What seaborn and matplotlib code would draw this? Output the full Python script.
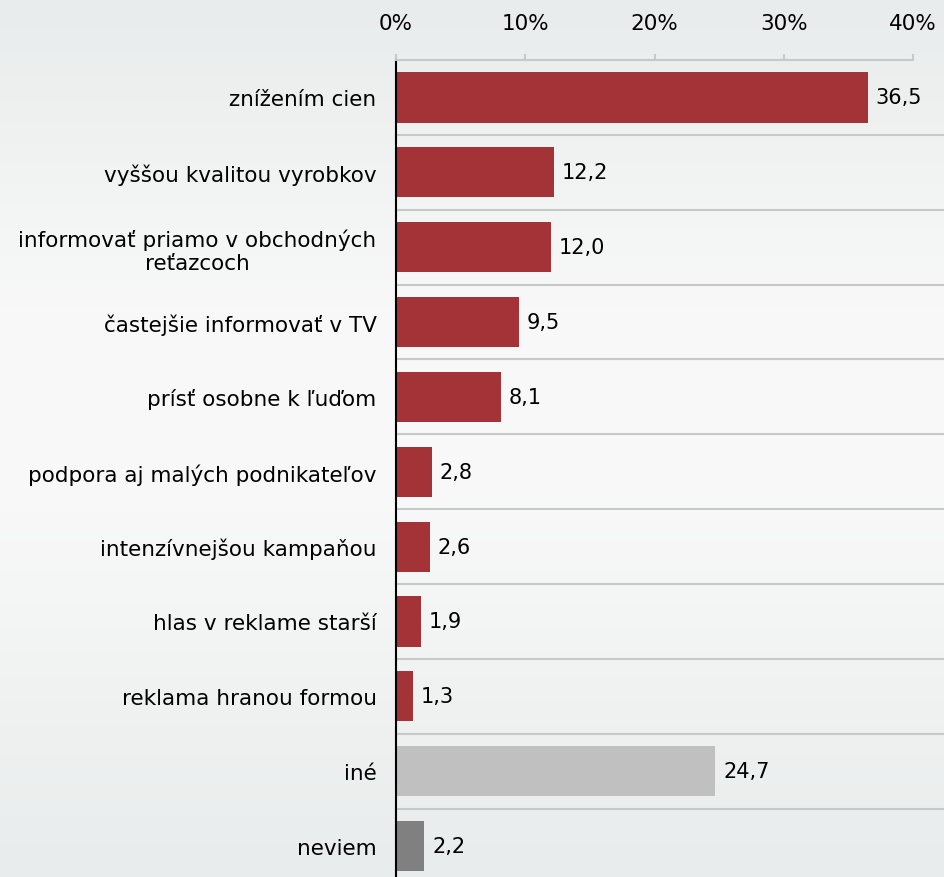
import numpy as np
import pandas as pd
import matplotlib
matplotlib.use("Agg")
import matplotlib.pyplot as plt
from matplotlib.colors import LinearSegmentedColormap
import seaborn as sns

# data
categories = ["znížením cien", "vyššou kvalitou vyrobkov",
              "informovať priamo v obchodných\nreťazcoch",
              "častejšie informovať v TV", "prísť osobne k ľuďom",
              "podpora aj malých podnikateľov", "intenzívnejšou kampaňou",
              "hlas v reklame starší", "reklama hranou formou", "iné", "neviem"]
values = [36.5, 12.2, 12.0, 9.5, 8.1, 2.8, 2.6, 1.9, 1.3, 24.7, 2.2]
bar_colors = ["#A33336"] * 9 + ["#C0C0C0", "#808080"]
xticks = [0, 10, 20, 30, 40]

df = pd.DataFrame({"cat": categories, "val": values})

sns.set_style("white")
plt.rcParams["font.family"] = ["DejaVu Sans"]
plt.rcParams["text.color"] = "black"
plt.rcParams["xtick.labelcolor"] = "black"
plt.rcParams["ytick.labelcolor"] = "black"

fig = plt.figure(figsize=(9.45, 8.78), dpi=100)

# background gradient
bg = fig.add_axes([0, 0, 1, 1], zorder=-1)
cmap = LinearSegmentedColormap.from_list(
    "bg", [(0, "#E9ECEC"), (0.35, "#F8F8F8"), (0.55, "#F9F9F9"), (1, "#E9ECEC")])
bg.imshow(np.linspace(0, 1, 256).reshape(-1, 1), aspect="auto", cmap=cmap,
          extent=[0, 1, 0, 1])
bg.set_axis_off()

ax = fig.add_axes([0.419, -0.0074, 0.581, 0.9379])
ax.set_facecolor("none")
sns.barplot(data=df, y="cat", x="val", hue="cat", palette=bar_colors,
            orient="h", width=0.67, legend=False, ax=ax, saturation=1,
            linewidth=0)

ax.set_xlim(0, 42.46)
ax.set_ylim(len(categories) - 0.5, -0.5)
ax.set_xlabel("")
ax.set_ylabel("")

# x axis on top
ax.xaxis.tick_top()
ax.set_xticks(xticks)
ax.set_xticklabels([f"{t}%" for t in xticks], fontsize=15.5)
ax.tick_params(axis="x", direction="out", length=4.5, width=1.5, color="#C8C8C8", pad=15)

for s in ["right", "bottom"]:
    ax.spines[s].set_visible(False)
ax.spines["top"].set_color("#C8C8C8")
ax.spines["top"].set_linewidth(1.5)
ax.spines["top"].set_bounds(0, 40)
ax.spines["left"].set_color("black")
ax.spines["left"].set_linewidth(1.5)

# y ticks: labels at centres, tick marks at boundaries
ax.set_yticks(range(len(categories)))
ax.set_yticklabels(categories, fontsize=15.5)
ax.tick_params(axis="y", length=0, pad=14)
bounds = np.arange(-0.5, len(categories) + 0.5, 1)
ax.set_yticks(bounds, minor=True)
ax.tick_params(axis="y", which="minor", length=5, width=1.5, color="black")
for b in bounds[1:-1]:
    ax.axhline(b, color="#C8C8C8", lw=1.5, zorder=0)
for lbl in ax.get_yticklabels():
    lbl.set_multialignment("center")

# value labels
for i, v in enumerate(values):
    ax.text(v + 0.6, i, f"{v:.1f}".replace(".", ","), va="center", ha="left", fontsize=15)

fig.savefig("out.png", dpi=100)
